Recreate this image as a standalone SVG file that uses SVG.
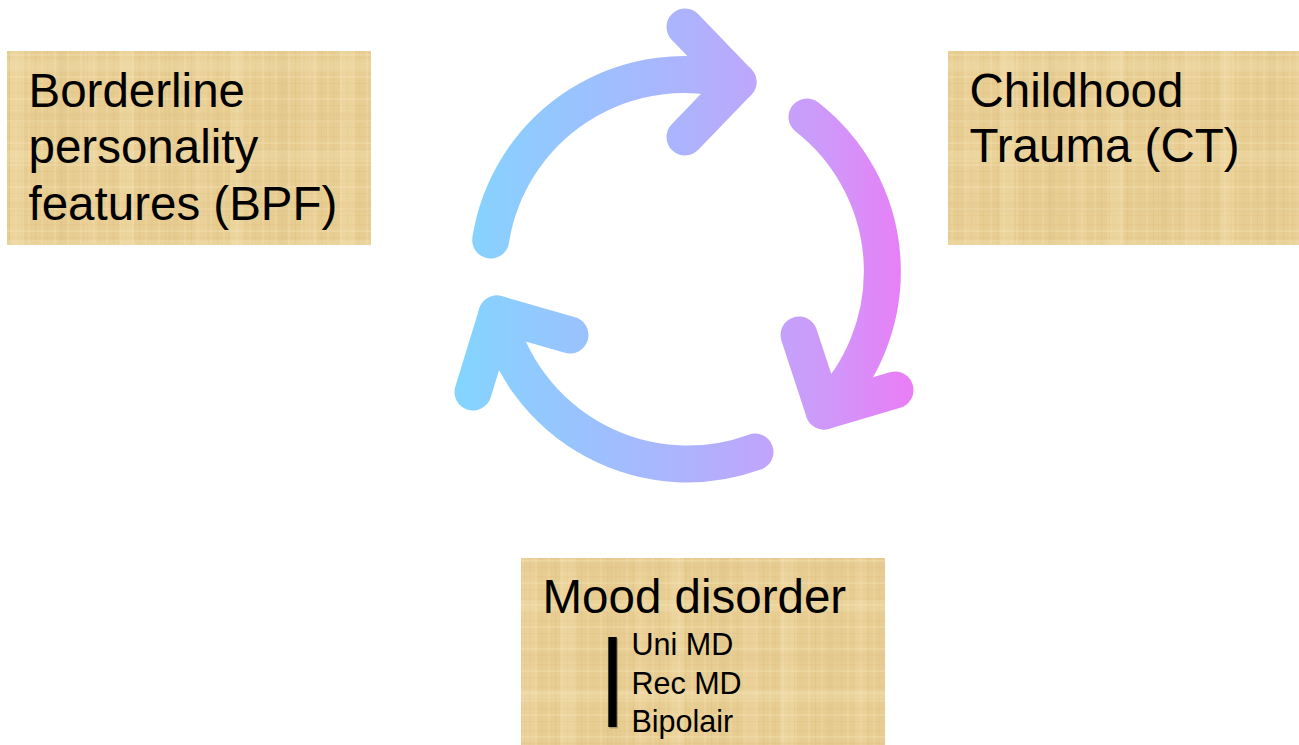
<svg xmlns="http://www.w3.org/2000/svg" width="1299" height="745" viewBox="0 0 1299 745">
  <defs>
    <linearGradient id="cycleGrad" gradientUnits="userSpaceOnUse" x1="455" y1="0" x2="915" y2="0">
      <stop offset="0" stop-color="#83D5FF"/>
      <stop offset="0.5" stop-color="#ADB3FD"/>
      <stop offset="0.78" stop-color="#CB9CFA"/>
      <stop offset="1" stop-color="#EB7CF6"/>
    </linearGradient>
    <pattern id="papyrusFine" width="26" height="22" patternUnits="userSpaceOnUse">
      <rect width="26" height="22" fill="#E8CD92"/>
      <rect x="2" y="0" width="2" height="22" fill="#F6E4B8" opacity="0.3"/>
      <rect x="9" y="0" width="1" height="22" fill="#D2B474" opacity="0.25"/>
      <rect x="15" y="0" width="2" height="22" fill="#F3DFAF" opacity="0.25"/>
      <rect x="21" y="0" width="1" height="22" fill="#D8BC7E" opacity="0.2"/>
      <rect x="0" y="4" width="26" height="1.5" fill="#D6B97A" opacity="0.2"/>
      <rect x="0" y="10" width="26" height="2" fill="#F6E5BB" opacity="0.3"/>
      <rect x="0" y="17" width="26" height="1" fill="#D0B272" opacity="0.2"/>
    </pattern>
    <pattern id="papyrusCoarse" width="110" height="90" patternUnits="userSpaceOnUse">
      <rect x="10" y="0" width="14" height="90" fill="#F7E7C0" opacity="0.25"/>
      <rect x="58" y="0" width="9" height="90" fill="#D9BD80" opacity="0.18"/>
      <rect x="85" y="0" width="12" height="90" fill="#F5E2B6" opacity="0.2"/>
      <rect x="0" y="22" width="110" height="10" fill="#DCC084" opacity="0.18"/>
      <rect x="0" y="60" width="110" height="12" fill="#F7E6BE" opacity="0.22"/>
    </pattern>
    <style>
      .box { fill: url(#papyrusFine); }
      .boxOver { fill: url(#papyrusCoarse); }
      .big { font-family: "Liberation Sans", Arial, sans-serif; font-size: 47.5px; fill: #000; }
      .small { font-family: "Liberation Sans", Arial, sans-serif; font-size: 30.5px; fill: #000; }
      .cyc { fill: none; stroke: url(#cycleGrad); stroke-width: 37; stroke-linecap: round; stroke-linejoin: round; }
    </style>
  </defs>
  <rect width="1299" height="745" fill="#FFFFFF"/>

  <g id="node-bpf">
    <rect class="box" x="7" y="51" width="364" height="194"/>
    <rect class="boxOver" x="7" y="51" width="364" height="194"/>
    <text class="big" x="28.5" y="106.7">Borderline</text>
    <text class="big" x="28.5" y="163.3">personality</text>
    <text class="big" x="28.5" y="220">features (BPF)</text>
  </g>

  <g id="node-ct">
    <rect class="box" x="948" y="51" width="351" height="194"/>
    <rect class="boxOver" x="948" y="51" width="351" height="194"/>
    <text class="big" x="969.5" y="106.7">Childhood</text>
    <text class="big" x="969.5" y="162">Trauma (CT)</text>
  </g>

  <g id="node-mood">
    <rect class="box" x="521" y="558" width="364" height="187"/>
    <rect class="boxOver" x="521" y="558" width="364" height="187"/>
    <text class="big" x="542.5" y="613.3">Mood disorder</text>
    <rect x="609.5" y="638.5" width="8.5" height="90" fill="#000" opacity="0.25"/>
    <rect x="608.3" y="637" width="8.4" height="90" fill="#000"/>
    <text class="small" x="631.5" y="655">Uni MD</text>
    <text class="small" x="631.5" y="694">Rec MD</text>
    <text class="small" x="631.5" y="731.7">Bipolair</text>
  </g>

  <g id="connectors">
    <path class="cyc" d="M 490.7 240 A 196 196 0 0 1 738 82"/>
    <path class="cyc" d="M 685 27 L 738 82 L 685 137"/>
    <path class="cyc" d="M 807 117 A 196 196 0 0 1 824 411"/>
    <path class="cyc" d="M 799 335 L 824 411 L 895 390"/>
    <path class="cyc" d="M 755 452 A 196 196 0 0 1 497 314"/>
    <path class="cyc" d="M 570 335 L 497 314 L 473 392"/>
  </g>
</svg>
